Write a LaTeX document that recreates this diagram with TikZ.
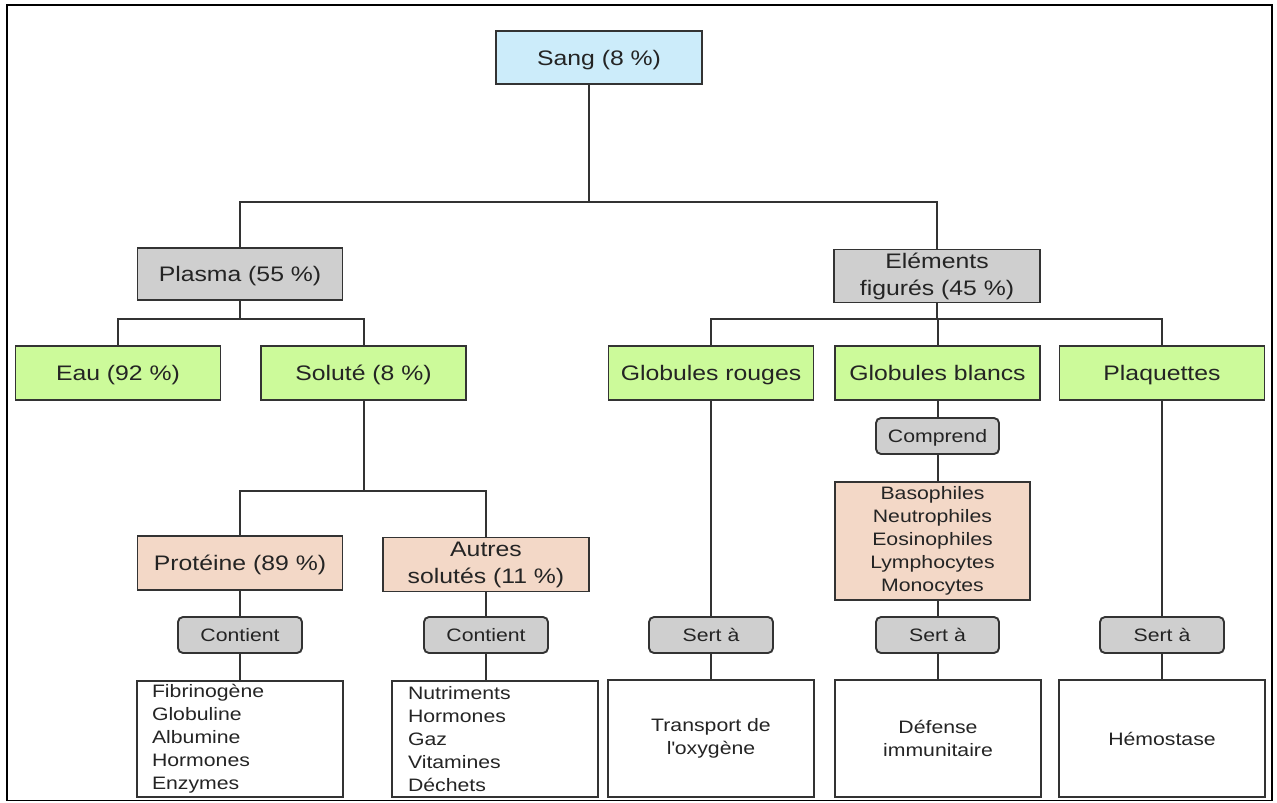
\documentclass[tikz,border=0pt]{standalone}
\usepackage{fontspec}
\setmainfont{Liberation Sans}[FakeStretch=1.18]
\definecolor{bordc}{HTML}{333333}
\definecolor{txt}{HTML}{242424}
\definecolor{bluec}{HTML}{CCECFA}
\definecolor{grayc}{HTML}{CFCFCF}
\definecolor{greenc}{HTML}{CCFA9A}
\definecolor{pinkc}{HTML}{F3D8C7}
\tikzset{
  box/.style={draw=bordc, line width=1.9pt, inner sep=0pt, text=txt, align=center,
    font=\fontsize{21}{27}\selectfont},
  small/.style={font=\fontsize{18}{23}\selectfont},
  one/.style={text height=15pt, text depth=0pt},
  onesmall/.style={text height=13pt, text depth=0pt},
  big/.style={box, minimum width=205pt, minimum height=53pt},
  tag/.style={box, small, onesmall, fill=grayc, rounded corners=5pt, minimum width=124pt, minimum height=36pt},
  listbox/.style={box, small, minimum width=206pt, minimum height=116pt},
  conn/.style={draw=bordc, line width=2pt}
}
\begin{document}
\begin{tikzpicture}[x=1pt,y=-1pt]
\useasboundingbox (0,0) rectangle (1277,803);
\draw[line width=1.5pt] (7,5) rectangle (1272,800.5);

% level 0
\node[big, one, fill=bluec, minimum width=206pt] (sang) at (599,57.5) {Sang (8 \%)};
% level 1
\node[big, one, fill=grayc, minimum height=52pt] (plasma) at (240,274) {Plasma (55 \%)};
\node[big, fill=grayc, minimum width=206pt] (elem) at (937,276) {Eléments\\figurés (45 \%)};
% level 2
\node[big, one, fill=greenc, minimum height=54pt] (eau) at (118,373) {Eau (92 \%)};
\node[big, one, fill=greenc, minimum height=54pt] (solute) at (363.5,373) {Soluté (8 \%)};
\node[big, one, fill=greenc, minimum height=54pt] (grouges) at (711,373) {Globules rouges};
\node[big, one, fill=greenc, minimum height=54pt] (gblancs) at (937.5,373) {Globules blancs};
\node[big, one, fill=greenc, minimum height=54pt] (plaq) at (1162,373) {Plaquettes};
% level 3
\node[big, one, fill=pinkc, minimum height=54pt] (prot) at (240,563) {Protéine (89 \%)};
\node[big, fill=pinkc, minimum width=206pt, minimum height=54pt] (autres) at (486,564.5) {Autres\\solutés (11 \%)};
\node[tag, minimum width=123pt] (comprend) at (937.5,436) {Comprend};
\node[box, small, fill=pinkc, minimum width=195pt, minimum height=118pt] (leuco) at (932.5,541)
  {Basophiles\\Neutrophiles\\Eosinophiles\\Lymphocytes\\Monocytes};
% tags
\node[tag] (cont1) at (240,635) {Contient};
\node[tag] (cont2) at (486,635) {Contient};
\node[tag] (sert1) at (711,635) {Sert à};
\node[tag, minimum width=123pt] (sert2) at (937.5,635) {Sert à};
\node[tag] (sert3) at (1162,635) {Sert à};
% bottom boxes
\node[listbox, text width=176pt, align=left] (list1) at (240,739)
  {Fibrinogène\\Globuline\\Albumine\\Hormones\\Enzymes};
\node[listbox, text width=174pt, align=left] (list2) at (495,739)
  {Nutriments\\Hormones\\Gaz\\Vitamines\\Déchets};
\node[listbox, minimum height=117pt] (fct1) at (711,738.5) {Transport de\\l\textquotesingle oxygène};
\node[listbox, minimum height=117pt] (fct2) at (938,738.5) {Défense\\immunitaire};
\node[listbox, onesmall, minimum height=117pt] (fct3) at (1162,738.5) {Hémostase};

% junctions
\coordinate (j1) at (589,202);
\coordinate (j2) at (240,319);
\coordinate (j3) at (363.5,491);
\coordinate (j4) at (937,319);

\draw[conn] ([xshift=-10pt]sang.south) -- (j1);
\draw[conn] (plasma.north) |- (j1);
\draw[conn] (elem.north) |- (j1);

\draw[conn] (plasma.south) -- (j2);
\draw[conn] (eau.north) |- (j2);
\draw[conn] (solute.north) |- (j2);

\draw[conn] (solute.south) -- (j3);
\draw[conn] (prot.north) |- (j3);
\draw[conn] (autres.north) |- (j3);

\draw[conn] (elem.south) -- (j4);
\draw[conn] (grouges.north) |- (j4);
\draw[conn] (gblancs.north) |- (j4);
\draw[conn] (plaq.north) |- (j4);

\draw[conn] (prot.south) -- (cont1.north);
\draw[conn] (cont1.south) -- (list1.north -| cont1.south);
\draw[conn] (autres.south) -- (cont2.north);
\draw[conn] (cont2.south) -- (list2.north -| cont2.south);

\draw[conn] (grouges.south) -- (sert1.north);
\draw[conn] (sert1.south) -- (fct1.north);
\draw[conn] (gblancs.south) -- (comprend.north);
\draw[conn] (comprend.south) -- (leuco.north -| comprend.south);
\draw[conn] (leuco.south -| sert2.north) -- (sert2.north);
\draw[conn] (sert2.south) -- (fct2.north -| sert2.south);
\draw[conn] (plaq.south) -- (sert3.north);
\draw[conn] (sert3.south) -- (fct3.north);
\end{tikzpicture}
\end{document}
